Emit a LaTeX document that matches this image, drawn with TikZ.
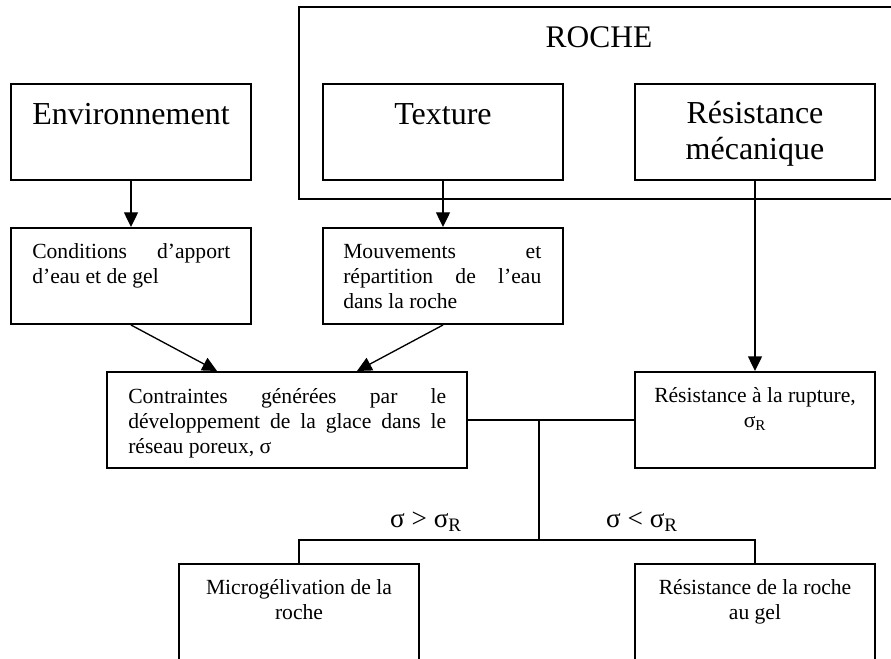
\documentclass[tikz,border=0pt]{standalone}
\usepackage{fontspec}
\setmainfont{Liberation Serif}
\usetikzlibrary{arrows.meta,calc}

\newcommand{\txtsmall}{\fontsize{16.2pt}{18.75pt}\selectfont}
\newcommand{\txtbig}{\fontsize{24pt}{27pt}\selectfont}
\newcommand{\txtroche}{\fontsize{23.6pt}{29pt}\selectfont}
\newcommand{\txtsig}{\fontsize{20.4pt}{22pt}\selectfont}

\begin{document}
\begin{tikzpicture}[x=0.75pt, y=-0.75pt,
    box/.style={draw, line width=1.5pt, minimum width=180pt, minimum height=72pt, inner sep=0pt},
    widebox/.style={box, minimum width=270pt},
    bigtxt/.style={font=\txtbig, align=flush center, text width=170pt, anchor=base, inner sep=0pt},
    jtxt/.style={font=\txtsmall, align=justify, text width=#1, anchor=base west, inner sep=0pt},
    ctxt/.style={font=\txtsmall, align=flush center, text width=170pt, anchor=base, inner sep=0pt},
    link/.style={line width=1pt},
    arr/.style={link, -{Triangle[width=10.5pt,length=11pt]}}]

    \useasboundingbox (0,0) rectangle (891,659);

    %% Rock frame
    \node[draw, line width=1pt, minimum width=450pt, minimum height=144pt, inner sep=0pt] (roche) at (599,103) {};
    \node[font=\txtroche, anchor=base, inner sep=0pt] (rochetxt) at (599,48) {ROCHE};

    %% Top row
    \node[box] (env) at (131,132) {};
    \node[bigtxt] (envtxt) at (131,125) {Environnement};
    \node[box] (tex) at (443,132) {};
    \node[bigtxt] (textxt) at (443,125) {Texture};
    \node[box] (resm) at (755,132) {};
    \node[bigtxt] (resmtxt) at (755,124) {Résistance\\mécanique};

    %% Second row
    \node[box] (cond) at (131,276) {};
    \node[jtxt=148.5pt] (condtxt) at (32,258) {Conditions d'apport\linebreak d'eau et de gel};
    \node[box] (mouv) at (443,276) {};
    \node[jtxt=148.5pt] (mouvtxt) at (343,258) {Mouvements et\linebreak répartition de l'eau\linebreak dans la roche};

    %% Third row
    \node[widebox] (contr) at (287,420) {};
    \node[jtxt=238.5pt] (contrtxt) at (128,403) {Contraintes générées par le\linebreak développement de la glace dans le\linebreak réseau poreux, σ};
    \node[box] (rupt) at (755,420) {};
    \node[ctxt] (rupttxt) at (755,402) {Résistance à la rupture,\\σ\textsubscript{R}};

    %% Bottom row
    \node[box] (micro) at (299,612) {};
    \node[ctxt] (microtxt) at (299,594) {Microgélivation de la\\roche};
    \node[box] (gel) at (755,612) {};
    \node[ctxt] (geltxt) at (755,594) {Résistance de la roche\\au gel};

    % Arrows
    \draw[arr] (env.south) -- (cond.north);
    \draw[arr] (tex.south) -- (mouv.north);
    \draw[arr] (resm.south) -- (rupt.north);
    \draw[arr] (cond.south) -- ($(contr.north)+(-70,0)$);
    \draw[arr] (mouv.south) -- ($(contr.north)+(70,0)$);

    % Comparison
    \coordinate (j) at (539,420);
    \coordinate (k) at (539,540);
    \draw[link] (contr.east) -- (rupt.west);
    \draw[link] (j) -- (k);
    \draw[link] (micro.north) |- (k) -| (gel.north);
    \node[font=\txtsig, anchor=base, inner sep=0pt] (gt) at (426,527) {σ > σ\textsubscript{R}};
    \node[font=\txtsig, anchor=base, inner sep=0pt] (lt) at (642,527) {σ < σ\textsubscript{R}};

\end{tikzpicture}
\end{document}
